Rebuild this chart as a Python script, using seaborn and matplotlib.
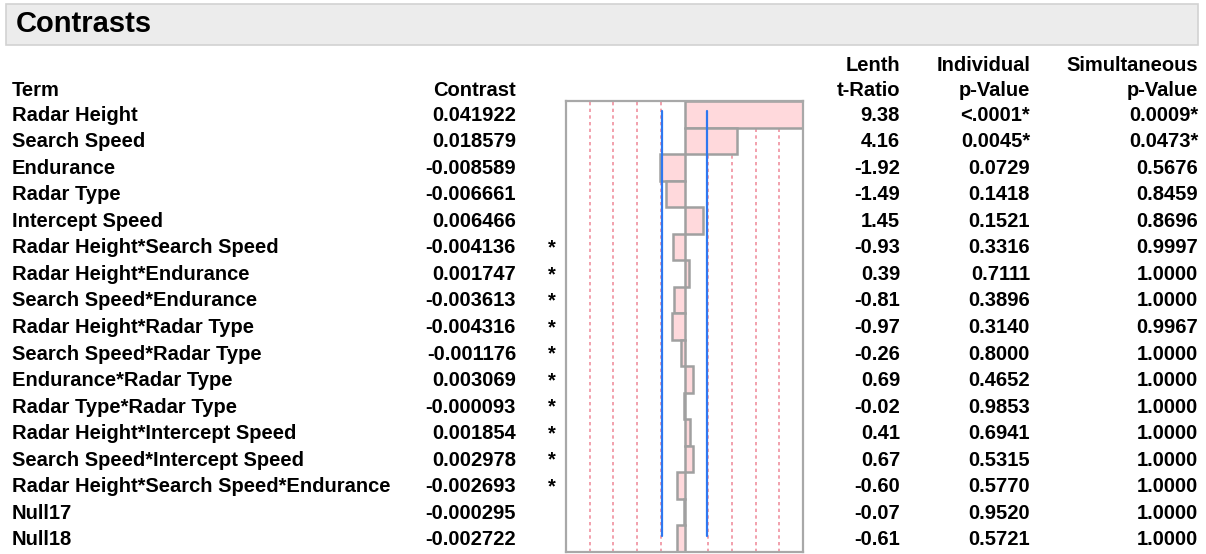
"""
Contrasts table (JMP style) with Lenth t-ratio bar column
"""

import matplotlib
matplotlib.use("Agg")
import matplotlib.pyplot as plt
from matplotlib.patches import Rectangle
import seaborn as sns
import pandas as pd

# data
terms = [
    "Radar Height", "Search Speed", "Endurance", "Radar Type", "Intercept Speed",
    "Radar Height*Search Speed", "Radar Height*Endurance", "Search Speed*Endurance",
    "Radar Height*Radar Type", "Search Speed*Radar Type", "Endurance*Radar Type",
    "Radar Type*Radar Type", "Radar Height*Intercept Speed",
    "Search Speed*Intercept Speed", "Radar Height*Search Speed*Endurance",
    "Null17", "Null18",
]
contrast = [
    "0.041922", "0.018579", "-0.008589", "-0.006661", "0.006466", "-0.004136",
    "0.001747", "-0.003613", "-0.004316", "-0.001176", "0.003069", "-0.000093",
    "0.001854", "0.002978", "-0.002693", "-0.000295", "-0.002722",
]
t_ratio = [9.38, 4.16, -1.92, -1.49, 1.45, -0.93, 0.39, -0.81, -0.97, -0.26,
           0.69, -0.02, 0.41, 0.67, -0.60, -0.07, -0.61]
ind_p = ["<.0001*", "0.0045*", "0.0729", "0.1418", "0.1521", "0.3316", "0.7111",
         "0.3896", "0.3140", "0.8000", "0.4652", "0.9853", "0.6941", "0.5315",
         "0.5770", "0.9520", "0.5721"]
sim_p = ["0.0009*", "0.0473*", "0.5676", "0.8459", "0.8696", "0.9997", "1.0000",
         "1.0000", "0.9967", "1.0000", "1.0000", "1.0000", "1.0000", "1.0000",
         "1.0000", "1.0000", "1.0000"]
aliased = [False] * 5 + [True] * 10 + [False] * 2
margin = 1.75  # blue reference lines (t units)

W, H = 1206, 554
sns.set_style("white")
plt.rcParams["font.family"] = ["Liberation Sans", "DejaVu Sans"]
plt.rcParams["text.color"] = "black"

fig = plt.figure(figsize=(W / 100, H / 100), dpi=100)

# overlay axes in pixel coordinates for the table text
tx = fig.add_axes([0, 0, 1, 1])
tx.set_xlim(0, W)
tx.set_ylim(H, 0)
tx.axis("off")

# title bar
tx.add_patch(Rectangle((6, 4), 1192, 41, facecolor="#ECECEC", edgecolor="#D2D2D2", lw=1.2))
tx.text(16, 32, "Contrasts", fontsize=21, fontweight="bold", va="baseline", ha="left",
        color="black")

fs = 14.5
hdr = dict(fontsize=fs, fontweight="bold", va="baseline", color="black")
col_contrast, col_star, col_t, col_ind, col_sim = 516, 552, 900, 1030, 1198
tx.text(12, 96.5, "Term", ha="left", **hdr)
tx.text(col_contrast, 96.5, "Contrast", ha="right", **hdr)
tx.text(col_t, 71, "Lenth", ha="right", **hdr)
tx.text(col_t, 96.5, "t-Ratio", ha="right", **hdr)
tx.text(col_ind, 71, "Individual", ha="right", **hdr)
tx.text(col_ind, 96.5, "p-Value", ha="right", **hdr)
tx.text(col_sim, 71, "Simultaneous", ha="right", **hdr)
tx.text(col_sim, 96.5, "p-Value", ha="right", **hdr)

row_h = 451 / len(terms)
for i, term in enumerate(terms):
    yb = 101 + row_h * (i + 0.5) + 6.5
    tx.text(12, yb, term, ha="left", **hdr)
    tx.text(col_contrast, yb, contrast[i], ha="right", **hdr)
    if aliased[i]:
        tx.text(col_star, yb, "*", ha="center", **hdr)
    tx.text(col_t, yb, f"{t_ratio[i]:.2f}", ha="right", **hdr)
    tx.text(col_ind, yb, ind_p[i], ha="right", **hdr)
    tx.text(col_sim, yb, sim_p[i], ha="right", **hdr)

# bar column
x0, x1, y0, y1 = 566, 803, 101, 552
ax = fig.add_axes([x0 / W, (H - y1) / H, (x1 - x0) / W, (y1 - y0) / H])
df = pd.DataFrame({"term": terms, "t_ratio": t_ratio})
tmax = max(abs(v) for v in t_ratio)

for k in range(1, 5):
    for s in (-1, 1):
        ax.axvline(s * k * tmax / 5, color="#F0909E", lw=1.2, ls=(0, (2, 2)), zorder=0)

sns.barplot(data=df, x="t_ratio", y="term", orient="h", width=1.0, color="#FFD9DC",
            saturation=1, edgecolor="#A0A0A0", linewidth=1.8, ax=ax, zorder=2)

n = len(terms)
for s in (-1, 1):
    ax.plot([s * margin, s * margin], [-0.12, n - 1.1], color="#2F78F0", lw=1.6, zorder=3)

ax.set_xlim(-tmax, tmax)
ax.set_ylim(n - 0.5, -0.5)
ax.set_xticks([])
ax.set_yticks([])
ax.set_xlabel("")
ax.set_ylabel("")
for sp in ax.spines.values():
    sp.set_color("#A8A8A8")
    sp.set_linewidth(1.6)

fig.savefig("out.png", dpi=100)
